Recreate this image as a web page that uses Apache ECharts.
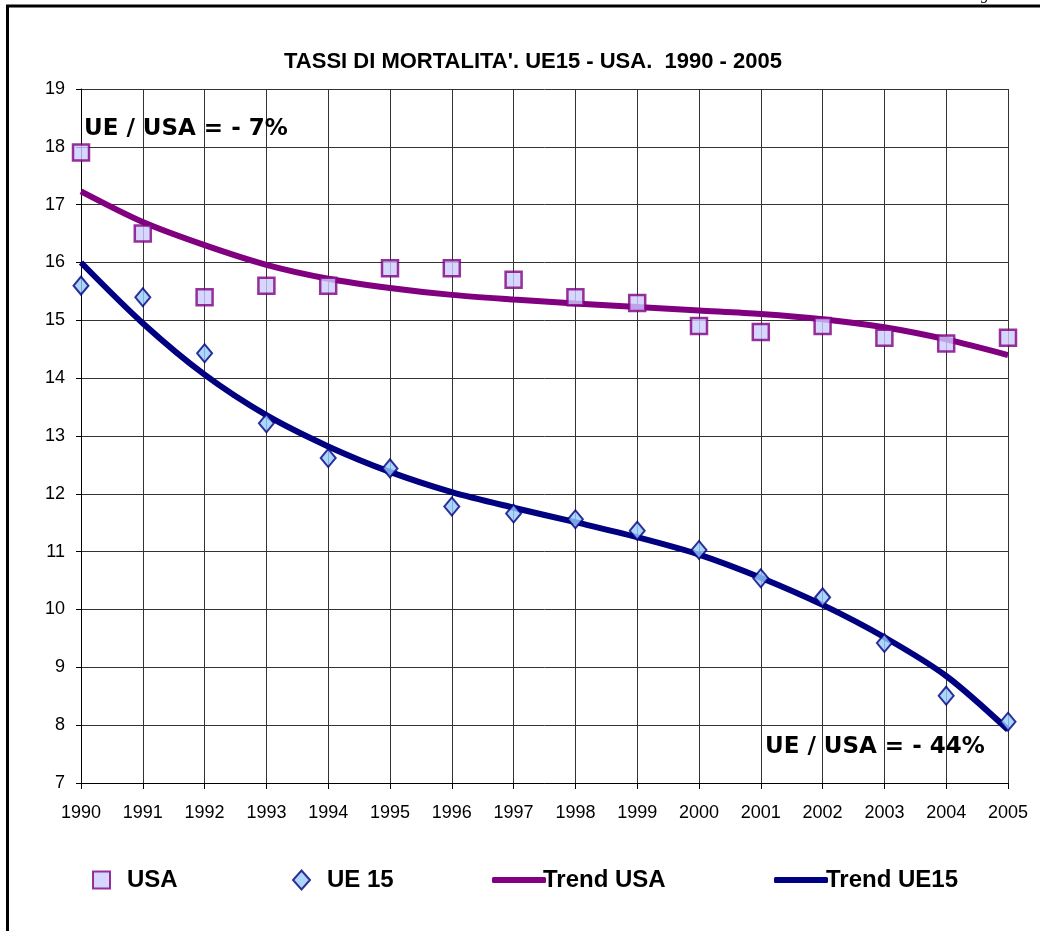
<!DOCTYPE html>
<html>
<head>
<meta charset="utf-8">
<title>Tassi di mortalita UE15 - USA</title>
<script src="https://cdn.jsdelivr.net/npm/echarts@6/dist/echarts.min.js"></script>
<style>
  html, body { margin: 0; padding: 0; background: #fff; }
  #chart { width: 1040px; height: 931px; }
</style>
</head>
<body>
<div id="chart"></div>
<script>
// anni
const years = ['1990', '1991', '1992', '1993', '1994', '1995', '1996', '1997',
  '1998', '1999', '2000', '2001', '2002', '2003', '2004', '2005']
// tassi osservati
const usa = [17.9, 16.5, 15.4, 15.6, 15.6, 15.9, 15.9, 15.7, 15.4, 15.3, 14.9, 14.8, 14.9, 14.7, 14.6, 14.7]
const ue15 = [15.6, 15.4, 14.43, 13.22, 12.62, 12.44, 11.78, 11.66, 11.56, 11.36, 11.03, 10.54, 10.21, 9.42, 8.51, 8.06]
// linee di tendenza
const trendUsa = [17.23, 16.7, 16.3, 15.96, 15.72, 15.56, 15.44, 15.36, 15.29, 15.23, 15.17, 15.11, 15.02, 14.88, 14.67, 14.4]
const trendUe15 = [16.0, 14.95, 14.06, 13.36, 12.82, 12.38, 12.03, 11.76, 11.51, 11.25, 10.95, 10.55, 10.08, 9.52, 8.85, 7.92]
// note
const noteUsa = 'UE / USA = - 7%'
const noteUe = 'UE / USA = - 44%'

const chart = echarts.init(document.getElementById('chart'))

const legendText = {
  color: '#000',
  fontSize: 24,
  fontWeight: 'bold',
  fontFamily: 'Liberation Sans'
}

chart.setOption({
  backgroundColor: '#fff',
  animation: false,
  title: {
    text: "TASSI DI MORTALITA'. UE15 - USA.  1990 - 2005",
    left: 528,
    textAlign: 'center',
    top: 46,
    textStyle: {
      color: '#000',
      fontSize: 22,
      fontWeight: 'bold',
      fontFamily: 'Liberation Sans'
    }
  },
  legend: [
    {
      left: 87, top: 863, itemWidth: 17, itemHeight: 17,
      data: [{ name: 'USA', icon: 'rect' }],
      textStyle: Object.assign({ padding: [0, 0, 0, 12] }, legendText)
    },
    {
      left: 287, top: 863, itemWidth: 17, itemHeight: 19,
      data: [{ name: 'UE 15', icon: 'diamond' }],
      textStyle: Object.assign({ padding: [0, 0, 0, 12] }, legendText)
    },
    {
      left: 487, top: 863, itemWidth: 54, itemHeight: 6,
      data: [{ name: 'Trend USA', icon: 'roundRect' }],
      textStyle: Object.assign({ padding: [0, 0, 0, -8] }, legendText)
    },
    {
      left: 769, top: 863, itemWidth: 54, itemHeight: 6,
      data: [{ name: 'Trend UE15', icon: 'roundRect' }],
      textStyle: Object.assign({ padding: [0, 0, 0, -7] }, legendText)
    }
  ],
  grid: {
    left: 81,
    right: 32,
    top: 89,
    bottom: 148
  },
  xAxis: {
    type: 'category',
    data: years,
    boundaryGap: false,
    axisLine: { lineStyle: { color: '#000', width: 1 } },
    axisTick: { show: true, length: 6, lineStyle: { color: '#000' } },
    axisLabel: {
      color: '#000',
      fontSize: 18,
      fontFamily: 'Liberation Sans',
      margin: 21
    },
    splitLine: { show: true, lineStyle: { color: '#333', width: 1 } }
  },
  yAxis: {
    type: 'value',
    min: 7,
    max: 19,
    interval: 1,
    axisLine: { show: true, lineStyle: { color: '#000', width: 1 } },
    axisTick: { show: true, length: 5, lineStyle: { color: '#000' } },
    axisLabel: {
      color: '#000',
      fontSize: 18,
      fontFamily: 'Liberation Sans',
      margin: 16
    },
    splitLine: { show: true, lineStyle: { color: '#333', width: 1 } }
  },
  series: [
    {
      name: 'Trend USA',
      type: 'line',
      data: trendUsa,
      smooth: 0.3,
      showSymbol: false,
      color: '#800080',
      lineStyle: { color: '#800080', width: 6 },
      z: 2
    },
    {
      name: 'Trend UE15',
      type: 'line',
      data: trendUe15,
      smooth: 0.3,
      showSymbol: false,
      color: '#000080',
      lineStyle: { color: '#000080', width: 6 },
      z: 2
    },
    {
      name: 'USA',
      type: 'scatter',
      data: usa,
      symbol: 'rect',
      symbolSize: 16,
      itemStyle: { color: '#CCCCFF', borderColor: '#800080', borderWidth: 2.5 },
      z: 3
    },
    {
      name: 'UE 15',
      type: 'scatter',
      data: ue15,
      symbol: 'diamond',
      symbolSize: [15, 18],
      itemStyle: { color: '#99CCFF', borderColor: '#000080', borderWidth: 2 },
      z: 3
    }
  ],
  graphic: [
    // cornice
    {
      type: 'polyline',
      shape: { points: [[7.5, 931], [7.5, 6], [1040, 6]] },
      style: { stroke: '#000', lineWidth: 3, fill: null }
    },
    {
      type: 'text',
      left: 981,
      top: -13,
      style: { text: 'g', fontSize: 16, fontStyle: 'italic', fontFamily: 'Liberation Serif', fill: '#000' }
    },
    {
      type: 'text',
      left: 84,
      top: 118,
      z: 10,
      style: { text: noteUsa, fontSize: 23, fontWeight: 'bold', fontFamily: 'DejaVu Sans', fill: '#000' }
    },
    {
      type: 'text',
      left: 765,
      top: 736,
      z: 10,
      style: { text: noteUe, fontSize: 23, fontWeight: 'bold', fontFamily: 'DejaVu Sans', fill: '#000' }
    }
  ]
})
</script>
</body>
</html>
